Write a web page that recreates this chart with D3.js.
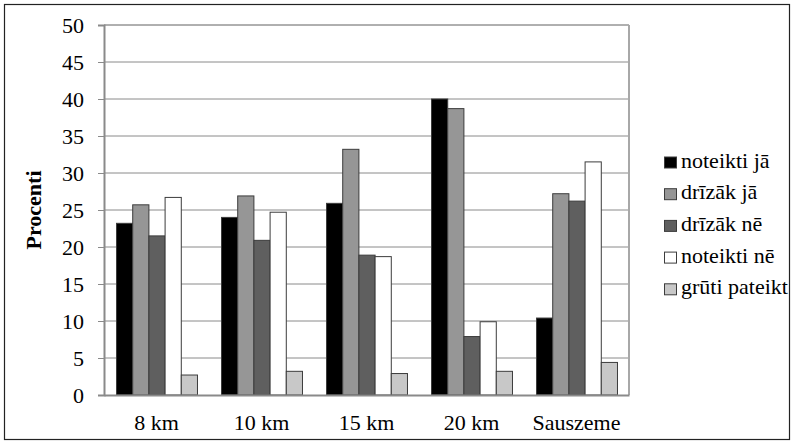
<!DOCTYPE html>
<html>
<head>
<meta charset="utf-8">
<script src="https://cdn.jsdelivr.net/npm/d3@7"></script>
</head>
<body style="margin:0;background:#fff">
<svg id="chart" width="794" height="442" style="display:block"></svg>
<script>
// Survey answers by distance, percent of respondents
const categories = ["8 km", "10 km", "15 km", "20 km", "Sauszeme"];
const seriesNames = ["noteikti jā", "drīzāk jā", "drīzāk nē", "noteikti nē", "grūti pateikt"];
const noteiktiJa   = [23.2, 24.0, 25.9, 40.0, 10.4];
const drizakJa     = [25.7, 26.9, 33.2, 38.7, 27.2];
const drizakNe     = [21.5, 20.9, 18.9, 7.9, 26.2];
const noteiktiNe   = [26.7, 24.7, 18.7, 9.9, 31.5];
const grutiPateikt = [2.7, 3.2, 2.9, 3.2, 4.4];
const yTicks = [0, 5, 10, 15, 20, 25, 30, 35, 40, 45, 50];
const fills = ["#000000", "#969696", "#5f5f5f", "#ffffff", "#c8c8c8"];

const series = [noteiktiJa, drizakJa, drizakNe, noteiktiNe, grutiPateikt];
const FONT = "Liberation Serif";
const FS = "22px";

const svg = d3.select("#chart");
const plot = { left: 104, right: 629, top: 25, bottom: 395 };

// outer chart border
svg.append("rect")
  .attr("x", 4.5).attr("y", 4.5)
  .attr("width", 785).attr("height", 435)
  .attr("fill", "none").attr("stroke", "#222").attr("stroke-width", 1.2);

const x0 = d3.scaleBand().domain(categories)
  .range([plot.left, plot.right]).paddingInner(0.229).paddingOuter(0.1145);
const x1 = d3.scaleBand().domain(d3.range(series.length))
  .range([0, x0.bandwidth()]);
const y = d3.scaleLinear().domain([0, 50]).range([plot.bottom, plot.top]);

// horizontal gridlines
svg.append("g").selectAll("line").data(yTicks.filter(t => t > 0)).join("line")
  .attr("x1", plot.left).attr("x2", plot.right)
  .attr("y1", d => y(d)).attr("y2", d => y(d))
  .attr("stroke", "#8a8a8a").attr("stroke-width", 1);

// plot frame top and right edges
svg.append("line")
  .attr("x1", plot.right).attr("x2", plot.right)
  .attr("y1", plot.top).attr("y2", plot.bottom)
  .attr("stroke", "#a8a8a8").attr("stroke-width", 2);
svg.append("line")
  .attr("x1", plot.left).attr("x2", plot.right)
  .attr("y1", plot.top).attr("y2", plot.top)
  .attr("stroke", "#a8a8a8").attr("stroke-width", 1.5);

// bars
const groups = svg.append("g").selectAll("g").data(categories).join("g")
  .attr("transform", d => `translate(${x0(d)},0)`);
groups.selectAll("rect")
  .data((c, ci) => series.map((s, si) => ({ si, v: s[ci] })))
  .join("rect")
  .attr("x", d => x1(d.si) + 0.5)
  .attr("width", x1.bandwidth())
  .attr("y", d => y(d.v))
  .attr("height", d => y(0) - y(d.v))
  .attr("fill", d => fills[d.si])
  .attr("stroke", "#3c3c3c").attr("stroke-width", 1);

// y axis
const yAxis = svg.append("g")
  .attr("transform", `translate(${plot.left},0)`)
  .call(d3.axisLeft(y).tickValues(yTicks).tickSize(6).tickPadding(14));
yAxis.select(".domain").attr("stroke", "#8a8a8a").attr("stroke-width", 2);
yAxis.selectAll(".tick line").attr("stroke", "#8a8a8a").attr("stroke-width", 1);
yAxis.selectAll("text").style("font-family", FONT).style("font-size", FS).attr("fill", "#000");

// x axis
const xAxis = svg.append("g")
  .attr("transform", `translate(0,${plot.bottom})`)
  .call(d3.axisBottom(x0).tickSize(0).tickPadding(19));
xAxis.select(".domain").attr("stroke", "#8a8a8a").attr("stroke-width", 2);
xAxis.selectAll("text").style("font-family", FONT).style("font-size", FS).attr("fill", "#000");

// y axis title
svg.append("text")
  .attr("transform", `translate(41,${(plot.top + plot.bottom) / 2}) rotate(-90)`)
  .attr("text-anchor", "middle")
  .style("font-family", FONT).style("font-size", FS).style("font-weight", "bold")
  .text("Procenti");

// legend
const legend = svg.append("g").selectAll("g").data(seriesNames).join("g")
  .attr("transform", (d, i) => `translate(664,${162.5 + i * 31.7})`);
legend.append("rect")
  .attr("x", 0.5).attr("y", -5.5).attr("width", 12).attr("height", 11)
  .attr("fill", (d, i) => fills[i]).attr("stroke", "#3c3c3c").attr("stroke-width", 1);
legend.append("text")
  .attr("x", 17).attr("y", 5)
  .style("font-family", FONT).style("font-size", FS)
  .text(d => d);
</script>
</body>
</html>
